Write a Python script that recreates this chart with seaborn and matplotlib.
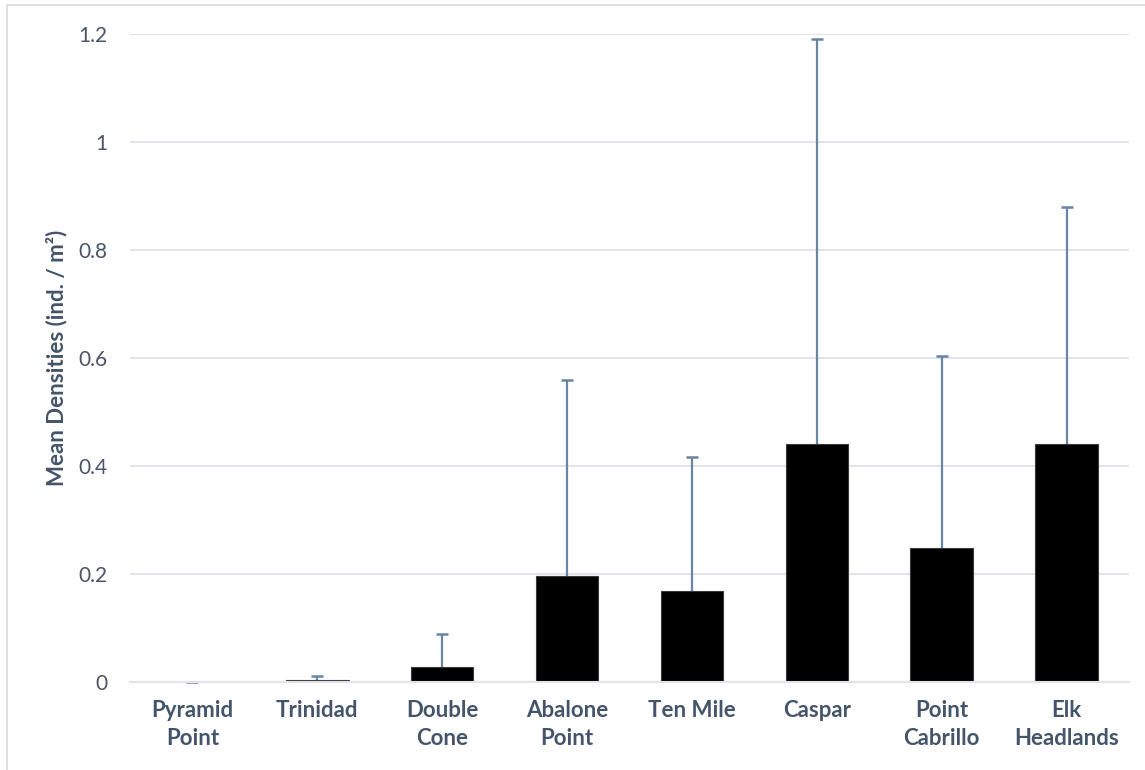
import numpy as np
import pandas as pd
import matplotlib
matplotlib.use("Agg")
import matplotlib.pyplot as plt
import seaborn as sns
from matplotlib.patches import Rectangle

sites = ["Pyramid\nPoint", "Trinidad", "Double\nCone", "Abalone\nPoint",
         "Ten Mile", "Caspar", "Point\nCabrillo", "Elk\nHeadlands"]
means = [0.0, 0.003, 0.028, 0.197, 0.168, 0.440, 0.249, 0.440]
errors = [0.0, 0.009, 0.060, 0.362, 0.248, 0.750, 0.355, 0.440]
yticks = [0, 0.2, 0.4, 0.6, 0.8, 1.0, 1.2]
ytick_labels = ["0", "0.2", "0.4", "0.6", "0.8", "1", "1.2"]

sns.set_theme(style="white")
plt.rcParams['font.family'] = ['Lato', 'DejaVu Sans']

df = pd.DataFrame({"site": sites, "mean": means})

fig = plt.figure(figsize=(11.45, 7.7), dpi=100)
ax = fig.add_axes([130/1145, 1-682/770, (1129-130)/1145, (682-34)/770])

sns.barplot(data=df, x="site", y="mean", color="black", width=0.5,
            edgecolor="#3a3a3a", linewidth=0.8, ax=ax, zorder=3)

xs = np.arange(len(sites))
means_a = np.array(means)
errs_a = np.array(errors)
err_col = "#6A84A6"
ax.errorbar(xs, means_a, yerr=[np.zeros(len(errs_a)), errs_a], fmt="none",
            ecolor=err_col, elinewidth=1.6, capsize=0, zorder=2)
ax.plot(xs, means_a + errs_a, linestyle="none", marker="_", markersize=8,
        markeredgewidth=1.8, color=err_col, zorder=2, clip_on=False)

ax.set_ylim(0, 1.2)
ax.set_xlim(-0.5, len(sites) - 0.5)
ax.set_yticks(yticks)
ax.set_yticklabels(ytick_labels)
ax.yaxis.grid(True, color="#E1E5EB", linewidth=1.5, zorder=0)
ax.set_axisbelow(True)
for s in ["top", "right", "left"]:
    ax.spines[s].set_visible(False)
ax.spines["bottom"].set_color("#E1E5EB")
ax.spines["bottom"].set_linewidth(1.5)
ax.spines["bottom"].set_zorder(4)
ax.tick_params(axis="both", length=0)
ax.tick_params(axis="y", labelsize=15, labelcolor="#4A5568", pad=16)
ax.tick_params(axis="x", labelsize=16, labelcolor="#44546A", pad=13)
for lab in ax.get_xticklabels():
    lab.set_fontweight("bold")
    lab.set_linespacing(1.38)
ax.set_xlabel("")
ax.set_ylabel("Mean Densities (ind. / m²)", fontsize=16, fontweight="bold",
              color="#44546A", labelpad=8)

fig.patches.append(Rectangle((7/1145, -0.01), 1.1, 1 - 5/770 + 0.01,
                             transform=fig.transFigure, fill=False,
                             edgecolor="#D9D9D9", linewidth=1.2))

fig.savefig("out.png", dpi=100, facecolor="white")
